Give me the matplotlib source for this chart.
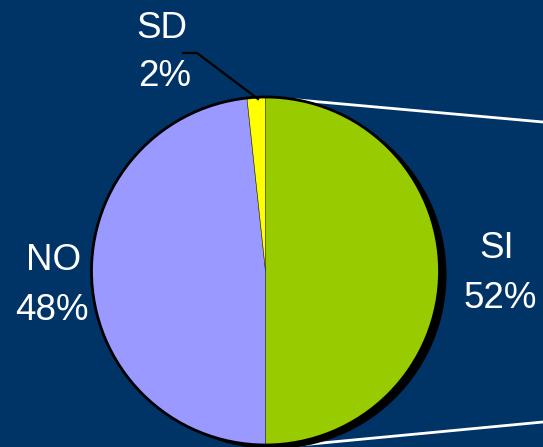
import matplotlib.pyplot as plt
from matplotlib.patches import Circle

# ---------------------------------------------------
# DATA
# ---------------------------------------------------
categories = ["SI", "NO", "SD"]
slice_values = [50.0, 48.3, 1.7]
pct_labels = ["52%", "48%", "2%"]         # labels as printed on the chart
colors = ["#99CC00", "#9999FF", "#FFFF00"]

BG = "#003366"
W, H = 543, 447


def img_y(y):
    # picture y (top-down) -> axes y (bottom-up)
    return H - y


fig = plt.figure(figsize=(W / 100, H / 100), dpi=100, facecolor=BG)
ax = fig.add_axes([0, 0, 1, 1])
ax.set_facecolor(BG)
ax.set_xlim(0, W)
ax.set_ylim(0, H)
ax.axis("off")

cx, cy, r = 265.5, img_y(271), 174

# connector lines to the (off-canvas) secondary chart
ax.plot([287, W], [img_y(99), img_y(122)], color="white", lw=2, zorder=1)
ax.plot([290, W], [img_y(446), img_y(422)], color="white", lw=2, zorder=1)

# shadow
ax.add_patch(Circle((cx + 7, cy - 4), r, facecolor="black", edgecolor="none", zorder=2))

wedges, _ = ax.pie(
    slice_values,
    colors=colors,
    startangle=90,
    counterclock=False,
    center=(cx, cy),
    radius=r,
    frame=True,
    wedgeprops=dict(edgecolor="#333333", linewidth=0.4),
)
for w in wedges:
    w.set_zorder(3)
ax.add_patch(Circle((cx, cy), r, facecolor="none", edgecolor="black", lw=2, zorder=4))

ax.set_xlim(0, W)
ax.set_ylim(0, H)
ax.set_aspect("auto")
ax.axis("off")

font = dict(family="Liberation Sans", fontsize=26.5, color="white",
            ha="center", va="center", zorder=5)

label_pos = {
    "SI": ((497, 248), (500, 299)),
    "NO": ((54, 260), (52, 310)),
    "SD": ((162, 28), (165, 77)),
}
for cat, pct in zip(categories, pct_labels):
    (x1, y1), (x2, y2) = label_pos[cat]
    ax.text(x1, img_y(y1), cat, **font)
    ax.text(x2, img_y(y2), pct, **font)

# SD leader line
ax.plot([183, 197, 258], [img_y(53), img_y(53), img_y(99)], color="black", lw=1.6, zorder=5)

plt.savefig("out.png", dpi=100, facecolor=BG)
plt.close()
